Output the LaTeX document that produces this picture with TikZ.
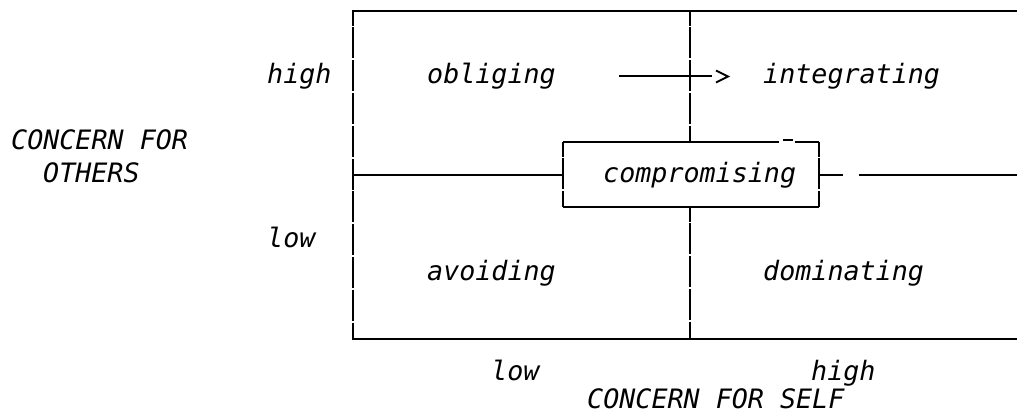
\documentclass[tikz,border=0pt]{standalone}
\usepackage{fontspec}
\newfontfamily\dvm{DejaVu Sans Mono}[ItalicFont={DejaVu Sans Mono Oblique}]
\begin{document}
\begin{tikzpicture}[x=1pt,y=-1pt,
  lbl/.style={anchor=base west,inner sep=0pt,font=\dvm\itshape\fontsize{26.7}{32}\selectfont},
  rule/.style={line width=2.2pt,line cap=butt},
  vrule/.style={rule,dash pattern=on 31pt off 1.8pt,dash phase=16.5pt}]
\useasboundingbox (0,0) rectangle (1017,415);
% frame coordinates
\coordinate (TL) at (352,11);
\coordinate (TR) at (1020,11);
\coordinate (BL) at (352,339);
\coordinate (BR) at (1020,339);
\coordinate (LT) at (353,11);
\coordinate (LB) at (353,339);
\coordinate (ML) at (353,175);
\coordinate (MT) at (690,11);
\coordinate (MB) at (690,339);
% compromising box
\coordinate (CTL) at (563,142);
\coordinate (CTR) at (819,142);
\coordinate (CBL) at (563,207);
\coordinate (CBR) at (819,207);
\coordinate (CL) at (563,175);
\coordinate (CR) at (819,175);
\coordinate (CTM) at (690,142);
\coordinate (CBM) at (690,207);
\coordinate (G1) at (779,142);
\coordinate (G2) at (795,142);
\coordinate (H1) at (783,140);
\coordinate (H2) at (793,140);
\coordinate (R1) at (843,175);
\coordinate (R2) at (859,175);
\coordinate (R3) at (1020,175);
% arrow
\coordinate (A1) at (619,76);
\coordinate (A2) at (712,76);
\coordinate (V1) at (716,70.5);
\coordinate (V2) at (728,76.5);
\coordinate (V3) at (716,82.5);

% labels
\node[lbl] (hiO) at (267,83.6) {high};
\node[lbl] (obl) at (427,83.6) {obliging};
\node[lbl] (int) at (763,83.6) {integrating};
\node[lbl] (cfo1) at (11,149.2) {CONCERN FOR};
\node[lbl] (cfo2) at (43,182) {OTHERS};
\node[lbl] (comp) at (603,182) {compromising};
\node[lbl] (loO) at (267,247.6) {low};
\node[lbl] (avo) at (427,280.4) {avoiding};
\node[lbl] (dom) at (763,280.4) {dominating};
\node[lbl] (loS) at (491,380) {low};
\node[lbl] (hiS) at (811,380) {high};
\node[lbl] (cfs) at (587,408.5) {CONCERN FOR SELF};

% frame
\draw[rule] (TL) -- (TR);
\draw[rule] (BL) -- (BR);
\draw[vrule] (LT) -- (LB);
\draw[vrule] (MT) -- (CTM);
\draw[vrule] (CBM) -- (MB);
\draw[rule] (ML) -- (CL);
% compromising box
\draw[rule] (CTL) -- (G1);
\draw[rule] (G2) -- (CTR);
\draw[line width=2.4pt] (H1) -- (H2);
\draw[rule] (CBL) -- (CBR);
\draw[vrule] (CTL) -- (CBL);
\draw[vrule] (CTR) -- (CBR);
\draw[rule] (CR) -- (R1);
\draw[rule] (R2) -- (R3);
% arrow obliging -> integrating
\draw[rule] (A1) -- (A2);
\draw[line width=1.8pt,line join=miter] (V1) -- (V2) -- (V3);
\end{tikzpicture}
\end{document}
